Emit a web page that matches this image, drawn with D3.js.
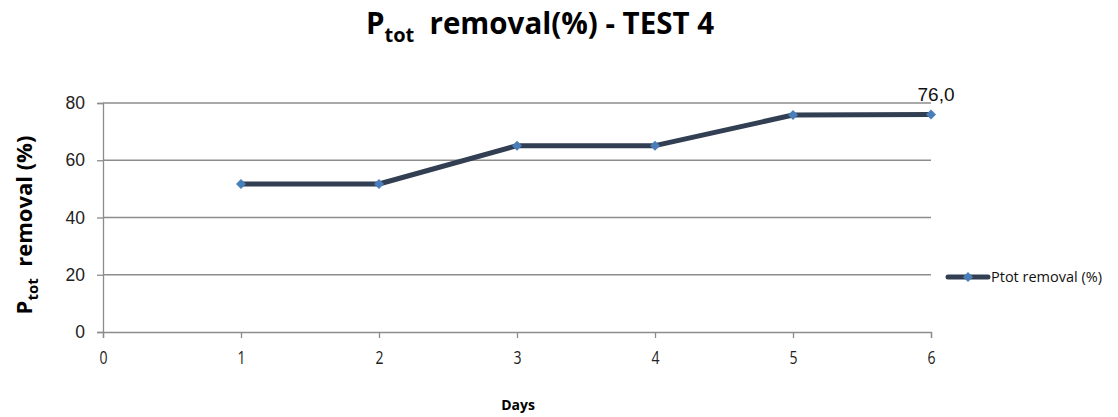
<!DOCTYPE html>
<html><head><meta charset="utf-8">
<script src="https://cdn.jsdelivr.net/npm/d3@7"></script>
<style>body{margin:0;background:#fff}</style>
</head><body>
<svg id="chart" width="1118" height="417"></svg>
<script>
const days = [1, 2, 3, 4, 5, 6];
const removal = [51.7, 51.7, 65.1, 65.1, 75.8, 76.0];
const xTicks = [0, 1, 2, 3, 4, 5, 6];
const yTicks = [0, 20, 40, 60, 80];
const seriesName = "Ptot removal (%)";
const lastLabel = "76,0";

const svg = d3.select("#chart");
const x = d3.scaleLinear().domain([0, 6]).range([103, 931]);
const y = d3.scaleLinear().domain([0, 80]).range([332, 103]);

// gridlines
svg.append("g").selectAll("line").data(yTicks.filter(d => d > 0)).join("line")
  .attr("x1", x(0)).attr("x2", x(6)).attr("y1", d => y(d)).attr("y2", d => y(d))
  .attr("stroke", "#8c8c8c").attr("stroke-width", 1.3);

// y axis
const yAxis = svg.append("g").attr("transform", `translate(${x(0)},0)`)
  .call(d3.axisLeft(y).tickValues(yTicks).tickSize(6).tickPadding(12).tickFormat(d3.format("d")));
yAxis.select(".domain").attr("stroke", "#8c8c8c").attr("stroke-width", 1.3);
yAxis.selectAll(".tick line").attr("stroke", "#8c8c8c").attr("stroke-width", 1.3);
yAxis.selectAll("text").attr("font-family", "Liberation Sans, Arial, sans-serif").attr("font-size", 17.5).attr("fill", "#222");

// x axis
const xAxis = svg.append("g").attr("transform", `translate(0,${y(0)})`)
  .call(d3.axisBottom(x).tickValues(xTicks).tickSize(6).tickPadding(13).tickFormat(d3.format("d")));
xAxis.select(".domain").attr("stroke", "#8c8c8c").attr("stroke-width", 1.3);
xAxis.selectAll(".tick line").attr("stroke", "#8c8c8c").attr("stroke-width", 1.3);
xAxis.selectAll("text").attr("font-family", "Open Sans, sans-serif").attr("font-size", 18).attr("fill", "#222")
  .attr("transform", "scale(0.78,1)");

// line
const pts = days.map((d, i) => [d, removal[i]]);
svg.append("path").datum(pts)
  .attr("d", d3.line().x(d => x(d[0])).y(d => y(d[1])))
  .attr("fill", "none").attr("stroke", "#323e52").attr("stroke-width", 5)
  .attr("stroke-linejoin", "round");

// markers (diamonds = rotated squares)
const marker = d3.symbol().type(d3.symbolSquare).size(50);
svg.append("g").selectAll("path").data(pts).join("path")
  .attr("transform", d => `translate(${x(d[0])},${y(d[1])}) rotate(45)`)
  .attr("d", marker)
  .attr("fill", "#4a7ebb");

// data label
svg.append("text").attr("x", x(6) + 5).attr("y", y(removal[5]) - 13)
  .attr("text-anchor", "middle").attr("font-family", "Liberation Sans, Arial, sans-serif")
  .attr("font-size", 19).attr("fill", "#111").text(lastLabel);

// title
const title = svg.append("text").attr("x", 540).attr("y", 34).attr("text-anchor", "middle")
  .attr("font-family", "Open Sans, sans-serif").attr("font-weight", "bold").attr("font-size", 29.5).attr("fill", "#000");
title.append("tspan").text("P");
title.append("tspan").attr("font-size", 20).attr("dy", 8).text("tot");
title.append("tspan").attr("dy", -8).text("\u00a0\u00a0removal(%) - TEST 4");

// y label
const yl = svg.append("text").attr("transform", `translate(32,225) rotate(-90)`).attr("text-anchor", "middle")
  .attr("font-family", "Open Sans, sans-serif").attr("font-weight", "bold").attr("font-size", 22).attr("fill", "#000");
yl.append("tspan").text("P");
yl.append("tspan").attr("font-size", 15).attr("dy", 6).text("tot");
yl.append("tspan").attr("dy", -6).text("\u00a0\u00a0removal (%)");

// x label
svg.append("text").attr("x", 518).attr("y", 410).attr("text-anchor", "middle")
  .attr("font-family", "Open Sans, sans-serif").attr("font-weight", "bold").attr("font-size", 14).attr("fill", "#000").text("Days");

// legend
const lg = svg.append("g");
lg.append("line").attr("x1", 948).attr("x2", 988).attr("y1", 277).attr("y2", 277)
  .attr("stroke", "#323e52").attr("stroke-width", 5).attr("stroke-linecap", "round");
lg.append("path").attr("transform", "translate(968,277) rotate(45)").attr("d", marker).attr("fill", "#4a7ebb");
lg.append("text").attr("x", 991).attr("y", 282).attr("font-family", "Open Sans, sans-serif").attr("font-size", 14.5).attr("fill", "#111").text(seriesName);
</script>
</body></html>
